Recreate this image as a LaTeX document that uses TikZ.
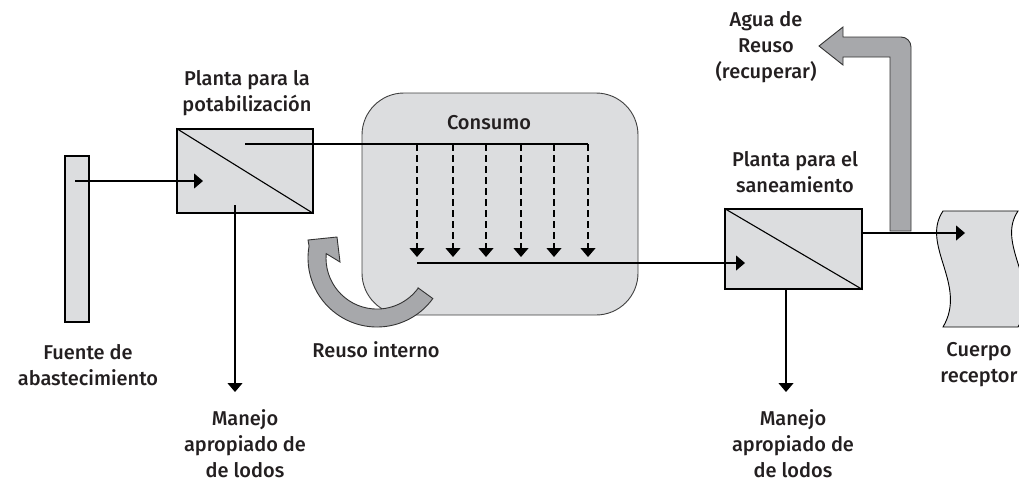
\documentclass[tikz,border=0pt]{standalone}
\usepackage{fontspec}
\setmainfont{Fira Sans Medium}
\usetikzlibrary{arrows.meta}
\definecolor{boxgray}{HTML}{DCDDDF}
\definecolor{arrowgray}{HTML}{A7A8AB}
\definecolor{txt}{HTML}{231F20}

\begin{document}
\begin{tikzpicture}[x=1pt,y=-1pt,
	every node/.style={font=\fontsize{20}{26}\selectfont, text=txt},
	unit/.style={draw, line width=1.1pt, fill=boxgray, inner sep=0pt},
	tag/.style={align=center, inner sep=0pt},
	flow/.style={line width=1.1pt, -{Triangle[width=15pt,length=9pt]}},
	usoflow/.style={flow, dash pattern=on 7pt off 4pt},
	bigarrow/.style={draw=black!80, line width=0.9pt, fill=arrowgray}]
	\useasboundingbox (0,0) rectangle (1019,482);

	% unidades
	\node[unit, minimum width=24pt, minimum height=166pt] (fuente) at (77,239) {};
	\node[unit, minimum width=136pt, minimum height=84pt] (potab) at (245,171) {};
	\draw[line width=1.1pt] (potab.north west) -- (potab.south east);
	\node[unit, draw=black!75, line width=0.9pt, rounded corners=42pt,
		minimum width=276pt, minimum height=222pt] (consumo) at (500,204) {};
	\node (consumo-t) at (489,123) {Consumo};
	\node[unit, minimum width=137pt, minimum height=80pt] (sanea) at (793.5,249) {};
	\draw[line width=1.1pt] (sanea.north west) -- (sanea.south east);
	\draw[unit, line width=0.9pt] (943,211) -- (1018,211)
		.. controls (995,245) and (1043,285) .. (1018,327) -- (943,327)
		.. controls (968,285) and (920,245) .. (943,211) -- cycle;

	% reuso interno
	\draw[bigarrow] (377,258) ++(36:51) -- ++(36:18)
		arc[start angle=36, end angle=190, radius=69]
		-- (308,240) -- (337,237) -- (340,262) -- (326.2,253.6)
		arc[start angle=185, end angle=36, radius=51] -- cycle;
	% agua de reuso
	\draw[bigarrow] (890,231) -- (890,57) -- (843,57) -- (843,65) -- (819,46)
		-- (843,27) -- (843,37) [rounded corners=10pt] -- (911,37) -- (911,120)
		[sharp corners] -- (911,231) -- cycle;

	% flujos
	\coordinate (f-out) at (75,181);
	\coordinate (p-in) at (203,181);
	\coordinate (p-out) at (245,144);
	\coordinate (p-down) at (235,205);
	\coordinate (p-lodos) at (235,392);
	\coordinate (c-end) at (588,144);
	\coordinate (c-col) at (417,263);
	\coordinate (s-in) at (745,263);
	\coordinate (s-lodos) at (786,392);
	\coordinate (r-in) at (965,233);
	\draw[flow] (f-out) -- (p-in);
	\draw[line width=1.1pt] (p-out) -- (c-end);
	\foreach \x [count=\i] in {417,453,486,521,554,588}{
		\coordinate (tap\i) at (\x,144);
		\coordinate (use\i) at (\x,257);
		\draw[usoflow] (tap\i) -- (use\i);
	}
	\draw[flow] (c-col) -- (s-in);
	\draw[flow] (p-down) -- (p-lodos);
	\draw[flow] (sanea.south -| s-lodos) -- (s-lodos);
	\draw[flow] (sanea.east |- r-in) -- (r-in);

	% textos
	\node[tag] (t-potab) at (247,93) {Planta para la\\potabilización};
	\node[tag] (t-sanea) at (795,172) {Planta para el\\saneamiento};
	\node[tag] (t-fuente) at (88,365) {Fuente de\\abastecimiento};
	\node[tag] (t-lodos1) at (245,444) {Manejo\\apropiado de\\de lodos};
	\node[tag] (t-lodos2) at (793,444) {Manejo\\apropiado de\\de lodos};
	\node[tag] (t-interno) at (376,350) {Reuso interno};
	\node[tag] (t-cuerpo) at (979,365) {Cuerpo\\receptor};
	\node[tag] (t-agua) at (766,47) {Agua de\\Reuso\\(recuperar)};
\end{tikzpicture}
\end{document}
